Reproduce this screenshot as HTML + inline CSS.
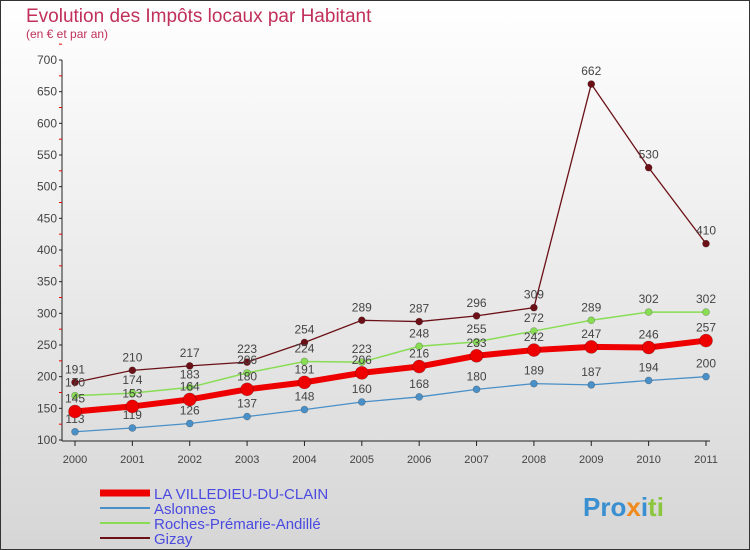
<!DOCTYPE html>
<html><head><meta charset="utf-8"><style>
body{margin:0;width:750px;height:550px;overflow:hidden;font-family:"Liberation Sans",sans-serif}
#wrap{position:absolute;left:0;top:0;width:748px;height:548px;border:1px solid #333;background:linear-gradient(#ffffff,#d6d6d6)}
svg{position:absolute;left:0;top:0}
</style></head><body>
<div id="wrap"></div>
<svg id="c" width="750" height="550">
<text x="26" y="22" font-size="19" fill="#c0305a">Evolution des Impôts locaux par Habitant</text>
<text x="26" y="38" font-size="12" fill="#c0305a">(en € et par an)</text>
<g id="axes"></g><g id="series"></g><g id="legend"></g>
<text x="583" y="516" font-size="26" font-weight="bold" fill="#3a8fd0">Pro<tspan fill="#f08a1c">x</tspan><tspan fill="#3a8fd0">i</tspan><tspan fill="#8cc63f">ti</tspan></text>
</svg>
<script>
const years=[2000,2001,2002,2003,2004,2005,2006,2007,2008,2009,2010,2011];
const yTicks=[100,150,200,250,300,350,400,450,500,550,600,650,700];
const villedieu=[145,153,164,180,191,206,216,233,242,247,246,257];
const aslonnes=[113,119,126,137,148,160,168,180,189,187,194,200];
const roches=[170,174,183,206,224,223,248,255,272,289,302,302];
const gizay=[191,210,217,223,254,289,287,296,309,662,530,410];
const NS='http://www.w3.org/2000/svg';
const xs=i=>75+i*(706-75)/11;
const ys=v=>440-(v-100)*(380/600);
function mk(t,a,p){const e=document.createElementNS(NS,t);for(const k in a)e.setAttribute(k,a[k]);p.appendChild(e);return e;}
const ax=document.getElementById('axes');
let l=mk('line',{x1:62,y1:60,x2:62,y2:441,stroke:'#222','stroke-width':1},ax);

l=mk('line',{x1:62,y1:441,x2:710,y2:441,stroke:'#222','stroke-width':1},ax);

yTicks.forEach(v=>{
 mk('line',{x1:59,y1:ys(v),x2:62,y2:ys(v),stroke:'#222'},ax);
 mk('line',{x1:59,y1:ys(v+25),x2:62,y2:ys(v+25),stroke:'#e00'},ax);
 const t=mk('text',{x:57,y:ys(v)+4,'font-size':12,fill:'#444','text-anchor':'end'},ax);t.textContent=v;
 
});
years.forEach((y,i)=>{
 mk('line',{x1:xs(i),y1:441,x2:xs(i),y2:446,stroke:'#222'},ax);
 const t=mk('text',{x:xs(i),y:463,'font-size':11,fill:'#444','text-anchor':'middle'},ax);t.textContent=y;
 
});
const S=document.getElementById('series');
function series(d,col,w,r,name){
 const g=mk('g',{},S);
 
 mk('polyline',{points:d.map((v,i)=>xs(i)+','+ys(v)).join(' '),fill:'none',stroke:col,'stroke-width':w},g);
 d.forEach((v,i)=>{
  const c=mk('circle',{cx:xs(i),cy:ys(v),r:r,fill:col,stroke:'rgba(0,0,0,0.3)','stroke-width':0.6},g);
  
  const t=mk('text',{x:xs(i),y:ys(v)-9,'font-size':12,fill:'#444','text-anchor':'middle'},g);t.textContent=v;
  
 });
}
series(gizay,'#6b1016',1.3,3.5,'gizay-series');
series(roches,'#88dd55',1.5,3.5,'roches-series');
series(aslonnes,'#4a90c8',1.3,3.5,'aslonnes-series');
series(villedieu,'#ee0000',6,6.5,'villedieu-series');
const L=document.getElementById('legend');
[['LA VILLEDIEU-DU-CLAIN','#ee0000',7],['Aslonnes','#4a90c8',2],['Roches-Prémarie-Andillé','#88dd55',2],['Gizay','#6b1016',2]].forEach((e,i)=>{
 const g=mk('g',{},L);
 const y=493+i*15;
 mk('line',{x1:100,y1:y,x2:150,y2:y,stroke:e[1],'stroke-width':e[2]},g);
 const t=mk('text',{x:154,y:y+6,'font-size':15,fill:'#4a4ae0'},g);t.textContent=e[0];
});
</script>
</body></html>
